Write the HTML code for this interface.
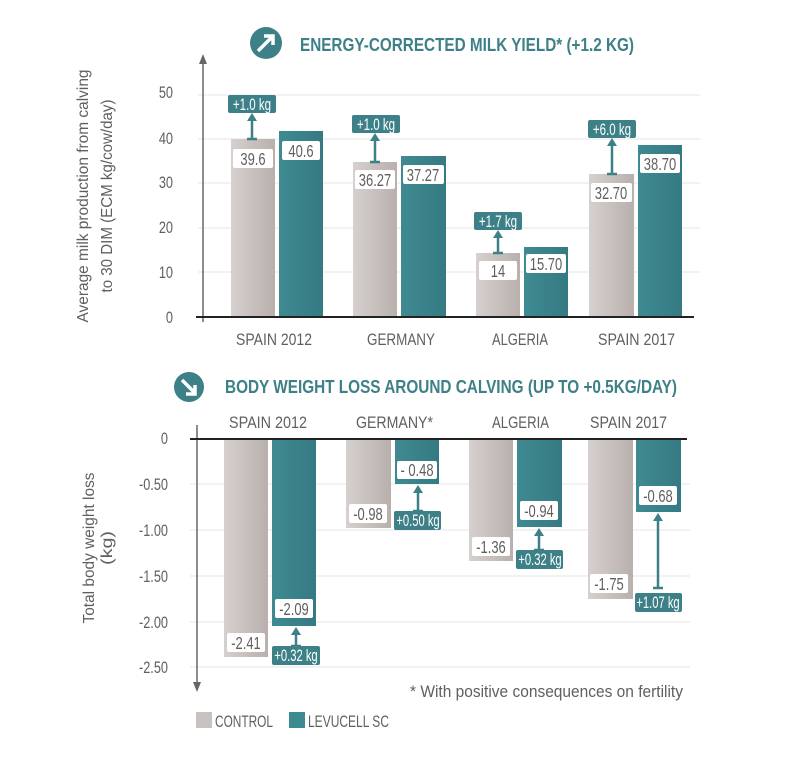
<!DOCTYPE html>
<html><head><meta charset="utf-8"><style>
html,body{margin:0;padding:0;background:#fff}
svg{display:block}
text{font-family:"Liberation Sans",sans-serif}
.g{fill:#5f5f5f}
.t{fill:#3d8087;font-weight:bold}
.w{fill:#fff}
</style></head><body>
<svg width="790" height="762" viewBox="0 0 790 762" xmlns="http://www.w3.org/2000/svg">
<defs>
<linearGradient id="gr" x1="0" x2="1" y1="0" y2="0"><stop offset="0" stop-color="#d6d0ce"/><stop offset="1" stop-color="#b9b0ad"/></linearGradient>
<linearGradient id="te" x1="0" x2="1" y1="0" y2="0"><stop offset="0" stop-color="#3f8a92"/><stop offset="1" stop-color="#357a82"/></linearGradient>
</defs>
<circle cx="266" cy="43" r="16" fill="#3d8087"/>
<path d="M258 51 L272 37 M264 36 L273 36 L273 45" stroke="#fff" stroke-width="3.5" fill="none"/>
<text x="300" y="51" class="t" font-size="18" textLength="334" lengthAdjust="spacingAndGlyphs">ENERGY-CORRECTED MILK YIELD* (+1.2 KG)</text>
<g stroke="#e6e6e6" stroke-width="1">
<line x1="198" y1="95" x2="700" y2="95"/><line x1="198" y1="139" x2="700" y2="139"/><line x1="198" y1="183" x2="700" y2="183"/><line x1="198" y1="228" x2="700" y2="228"/><line x1="198" y1="272" x2="700" y2="272"/>
</g>
<g class="g" font-size="17" text-anchor="end">
<text transform="translate(173,98) scale(.75,1)">50</text>
<text transform="translate(173,144) scale(.75,1)">40</text>
<text transform="translate(173,188) scale(.75,1)">30</text>
<text transform="translate(173,233) scale(.75,1)">20</text>
<text transform="translate(173,278) scale(.75,1)">10</text>
<text transform="translate(173,323) scale(.75,1)">0</text>
</g>
<text transform="translate(88,196) rotate(-90)" class="g" font-size="16" text-anchor="middle" textLength="253" lengthAdjust="spacingAndGlyphs">Average milk production from calving</text>
<text transform="translate(112,196) rotate(-90)" class="g" font-size="16" text-anchor="middle" textLength="193" lengthAdjust="spacingAndGlyphs">to 30 DIM (ECM kg/cow/day)</text>
<rect x="231" y="139" width="44" height="178" fill="url(#gr)"/>
<rect x="279" y="131" width="44" height="186" fill="url(#te)"/>
<rect x="353" y="162" width="44" height="155" fill="url(#gr)"/>
<rect x="401" y="156" width="45" height="161" fill="url(#te)"/>
<rect x="476" y="253" width="44" height="64" fill="url(#gr)"/>
<rect x="524" y="247" width="44" height="70" fill="url(#te)"/>
<rect x="589" y="174" width="45" height="143" fill="url(#gr)"/>
<rect x="638" y="145" width="44" height="172" fill="url(#te)"/>
<line x1="203" y1="62" x2="203" y2="322" stroke="#666" stroke-width="1.5"/>
<path d="M199 64 L203 54 L207 64 Z" fill="#666"/>
<line x1="196" y1="317" x2="694" y2="317" stroke="#222" stroke-width="2"/>
<g font-size="18" text-anchor="middle">
<rect x="233" y="149" width="40" height="19" rx="2" fill="#fff"/><text transform="translate(253,165) scale(.72,1)" class="g">39.6</text>
<rect x="282" y="141" width="38" height="19" rx="2" fill="#fff"/><text transform="translate(301,157) scale(.72,1)" class="g">40.6</text>
<rect x="355" y="170" width="40" height="19" rx="2" fill="#fff"/><text transform="translate(375,186) scale(.72,1)" class="g">36.27</text>
<rect x="403" y="165" width="41" height="19" rx="2" fill="#fff"/><text transform="translate(423,181) scale(.72,1)" class="g">37.27</text>
<rect x="479" y="261" width="38" height="19" rx="2" fill="#fff"/><text transform="translate(498,277) scale(.72,1)" class="g">14</text>
<rect x="526" y="254" width="40" height="19" rx="2" fill="#fff"/><text transform="translate(546,270) scale(.72,1)" class="g">15.70</text>
<rect x="591" y="183" width="41" height="19" rx="2" fill="#fff"/><text transform="translate(611,199) scale(.72,1)" class="g">32.70</text>
<rect x="640" y="154" width="40" height="19" rx="2" fill="#fff"/><text transform="translate(660,170) scale(.72,1)" class="g">38.70</text>
</g>
<g stroke="#3d8087" stroke-width="2.5" fill="none">
<path d="M252 139 V120 M247 139 H257"/><path d="M375 162 V140 M370 162 H380"/><path d="M498 253 V237 M493 253 H503"/><path d="M612 174 V145 M607 174 H617"/>
</g>
<g fill="#3d8087">
<path d="M247 121 L252 113 L257 121Z"/><path d="M370 141 L375 133 L380 141Z"/><path d="M493 238 L498 230 L503 238Z"/><path d="M607 146 L612 138 L617 146Z"/>
<rect x="228" y="95" width="48" height="18" rx="2"/><rect x="352" y="115" width="48" height="18" rx="2"/><rect x="474" y="212" width="48" height="18" rx="2"/><rect x="588" y="120" width="48" height="18" rx="2"/>
</g>
<g class="w" font-size="17" text-anchor="middle">
<text transform="translate(252,110) scale(.68,1)">+1.0 kg</text>
<text transform="translate(376,130) scale(.68,1)">+1.0 kg</text>
<text transform="translate(498,227) scale(.68,1)">+1.7 kg</text>
<text transform="translate(612,135) scale(.68,1)">+6.0 kg</text>
</g>
<g class="g" font-size="17">
<text x="236" y="345" textLength="76" lengthAdjust="spacingAndGlyphs">SPAIN 2012</text>
<text x="367" y="345" textLength="68" lengthAdjust="spacingAndGlyphs">GERMANY</text>
<text x="492" y="345" textLength="56" lengthAdjust="spacingAndGlyphs">ALGERIA</text>
<text x="598" y="345" textLength="77" lengthAdjust="spacingAndGlyphs">SPAIN 2017</text>
</g>
<circle cx="189" cy="387" r="15" fill="#3d8087"/>
<path d="M182 380 L195 393 M195 385 L195 394 L186 394" stroke="#fff" stroke-width="3.5" fill="none"/>
<text x="225" y="393" class="t" font-size="18" textLength="452" lengthAdjust="spacingAndGlyphs">BODY WEIGHT LOSS AROUND CALVING (UP TO +0.5KG/DAY)</text>
<g class="g" font-size="17">
<text x="229" y="428" textLength="78" lengthAdjust="spacingAndGlyphs">SPAIN 2012</text>
<text x="356" y="428" textLength="77" lengthAdjust="spacingAndGlyphs">GERMANY*</text>
<text x="492" y="428" textLength="57" lengthAdjust="spacingAndGlyphs">ALGERIA</text>
<text x="590" y="428" textLength="77" lengthAdjust="spacingAndGlyphs">SPAIN 2017</text>
</g>
<g stroke="#e6e6e6" stroke-width="1">
<line x1="190" y1="484" x2="690" y2="484"/><line x1="190" y1="530" x2="690" y2="530"/><line x1="190" y1="576" x2="690" y2="576"/><line x1="190" y1="622" x2="690" y2="622"/><line x1="190" y1="667" x2="690" y2="667"/>
</g>
<g class="g" font-size="17" text-anchor="end">
<text transform="translate(168,444) scale(.75,1)">0</text>
<text transform="translate(168,490) scale(.75,1)">-0.50</text>
<text transform="translate(168,536) scale(.75,1)">-1.00</text>
<text transform="translate(168,582) scale(.75,1)">-1.50</text>
<text transform="translate(168,628) scale(.75,1)">-2.00</text>
<text transform="translate(168,673) scale(.75,1)">-2.50</text>
</g>
<text transform="translate(94,548) rotate(-90)" class="g" font-size="16" text-anchor="middle" textLength="151" lengthAdjust="spacingAndGlyphs">Total body weight loss</text>
<text transform="translate(112,548) rotate(-90)" class="g" font-size="16" text-anchor="middle" textLength="34" lengthAdjust="spacingAndGlyphs">(kg)</text>
<rect x="224" y="439" width="44" height="218" fill="url(#gr)"/>
<rect x="272" y="439" width="44" height="187" fill="url(#te)"/>
<rect x="346" y="439" width="45" height="89" fill="url(#gr)"/>
<rect x="395" y="439" width="44" height="45" fill="url(#te)"/>
<rect x="469" y="439" width="44" height="122" fill="url(#gr)"/>
<rect x="517" y="439" width="45" height="88" fill="url(#te)"/>
<rect x="588" y="439" width="45" height="160" fill="url(#gr)"/>
<rect x="636" y="439" width="45" height="73" fill="url(#te)"/>
<line x1="197" y1="425" x2="197" y2="684" stroke="#666" stroke-width="1.5"/>
<path d="M193 682 L197 692 L201 682 Z" fill="#666"/>
<line x1="190" y1="439" x2="687" y2="439" stroke="#222" stroke-width="2"/>
<g font-size="18" text-anchor="middle">
<rect x="227" y="633" width="38" height="19" rx="2" fill="#fff"/><text transform="translate(246,649) scale(.72,1)" class="g">-2.41</text>
<rect x="275" y="599" width="38" height="19" rx="2" fill="#fff"/><text transform="translate(294,615) scale(.72,1)" class="g">-2.09</text>
<rect x="397" y="461" width="40" height="18" rx="2" fill="#fff"/><text transform="translate(417,476) scale(.72,1)" class="g">- 0.48</text>
<rect x="349" y="504" width="38" height="19" rx="2" fill="#fff"/><text transform="translate(368,520) scale(.72,1)" class="g">-0.98</text>
<rect x="472" y="537" width="38" height="19" rx="2" fill="#fff"/><text transform="translate(491,553) scale(.72,1)" class="g">-1.36</text>
<rect x="520" y="501" width="38" height="19" rx="2" fill="#fff"/><text transform="translate(539,517) scale(.72,1)" class="g">-0.94</text>
<rect x="590" y="574" width="38" height="19" rx="2" fill="#fff"/><text transform="translate(609,590) scale(.72,1)" class="g">-1.75</text>
<rect x="639" y="486" width="38" height="19" rx="2" fill="#fff"/><text transform="translate(658,502) scale(.72,1)" class="g">-0.68</text>
</g>
<g stroke="#3d8087" stroke-width="2.5" fill="none">
<path d="M296 646 V634 M291 646 H301"/><path d="M418 511 V492 M413 511 H423"/><path d="M539 550 V535 M534 550 H544"/><path d="M658 588 V520 M653 588 H663"/>
</g>
<g fill="#3d8087">
<path d="M291 635 L296 627 L301 635Z"/><path d="M413 493 L418 485 L423 493Z"/><path d="M534 536 L539 528 L544 536Z"/><path d="M653 521 L658 513 L663 521Z"/>
<rect x="272" y="646" width="48" height="19" rx="2"/><rect x="394" y="511" width="47" height="19" rx="2"/><rect x="516" y="550" width="47" height="19" rx="2"/><rect x="635" y="593" width="47" height="19" rx="2"/>
</g>
<g class="w" font-size="17" text-anchor="middle">
<text transform="translate(296,661) scale(.66,1)">+0.32 kg</text>
<text transform="translate(418,526) scale(.66,1)">+0.50 kg</text>
<text transform="translate(540,565) scale(.66,1)">+0.32 kg</text>
<text transform="translate(658,608) scale(.66,1)">+1.07 kg</text>
</g>
<text x="410" y="697" class="g" font-size="17" textLength="273" lengthAdjust="spacingAndGlyphs">* With positive consequences on fertility</text>
<rect x="196" y="712" width="16" height="16" fill="#c9c1bf"/>
<text x="215" y="727" class="g" font-size="17" textLength="58" lengthAdjust="spacingAndGlyphs">CONTROL</text>
<rect x="289" y="712" width="16" height="16" fill="#3d8a92"/>
<text x="308" y="727" class="g" font-size="17" textLength="81" lengthAdjust="spacingAndGlyphs">LEVUCELL SC</text>
</svg>
</body></html>
